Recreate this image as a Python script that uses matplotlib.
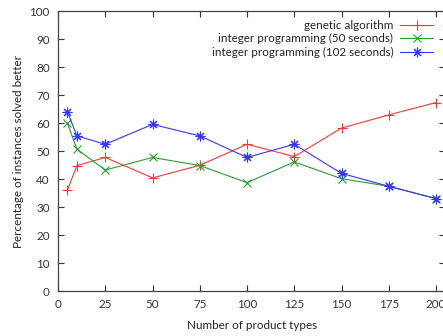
import numpy as np
import matplotlib
matplotlib.use("Agg")
import matplotlib.pyplot as plt

# product types on the x axis
product_types = [5, 10, 25, 50, 75, 100, 125, 150, 175, 200]

# percentage of instances solved better
genetic = [36.0, 44.8, 47.7, 40.4, 44.9, 52.4, 48.0, 58.2, 62.9, 67.3]
ip_50 = [59.9, 50.7, 43.2, 47.7, 44.8, 38.7, 46.1, 40.1, 37.4, 33.0]
ip_102 = [64.0, 55.4, 52.4, 59.5, 55.4, 47.7, 52.4, 42.0, 37.4, 33.0]

x_ticks = [0, 25, 50, 75, 100, 125, 150, 175, 200]
y_ticks = [0, 10, 20, 30, 40, 50, 60, 70, 80, 90, 100]

plt.rcParams['font.family'] = ['Lato', 'DejaVu Sans']
fs = 8.4

fig = plt.figure(figsize=(4.43, 3.36), dpi=100)
ax = fig.add_axes([58 / 443, 1 - 291 / 336, (205 * 1.89) / 443, 280 / 336])

ax.plot(product_types, genetic, color='#ff3535', lw=0.8, marker='+', ms=6.5, mew=0.8,
        label='genetic algorithm')
ax.plot(product_types, ip_50, color='#2c9c2c', lw=0.8, marker='x', ms=5.5, mew=0.8,
        label='integer programming (50 seconds)')
ax.plot(product_types, ip_102, color='#3535ff', lw=0.8, marker=(8, 2, 0), ms=7, mew=0.8,
        label='integer programming (102 seconds)')

ax.set_xlim(0, 205)
ax.set_ylim(0, 100)
ax.set_xticks(x_ticks)
ax.set_yticks(y_ticks)
ax.tick_params(direction='in', top=True, right=True, length=4, width=0.8,
               labelsize=fs, colors='#333333', pad=6)
for s in ax.spines.values():
    s.set_color('#444444')
    s.set_linewidth(0.9)

ax.set_xlabel('Number of product types', fontsize=fs, labelpad=7, color='#222222')
ax.set_ylabel('Percentage of instances solved better', fontsize=fs, labelpad=4,
              color='#222222')

leg = ax.legend(loc='upper right', bbox_to_anchor=(433 / 443, 1 - 20 / 336),
                bbox_transform=fig.transFigure, frameon=False, markerfirst=False,
                fontsize=fs, handlelength=2.8, handletextpad=0.6, labelspacing=0.2,
                borderpad=0, borderaxespad=0)
for t in leg.get_texts():
    t.set_color('#222222')

fig.savefig('out.png', dpi=100)
